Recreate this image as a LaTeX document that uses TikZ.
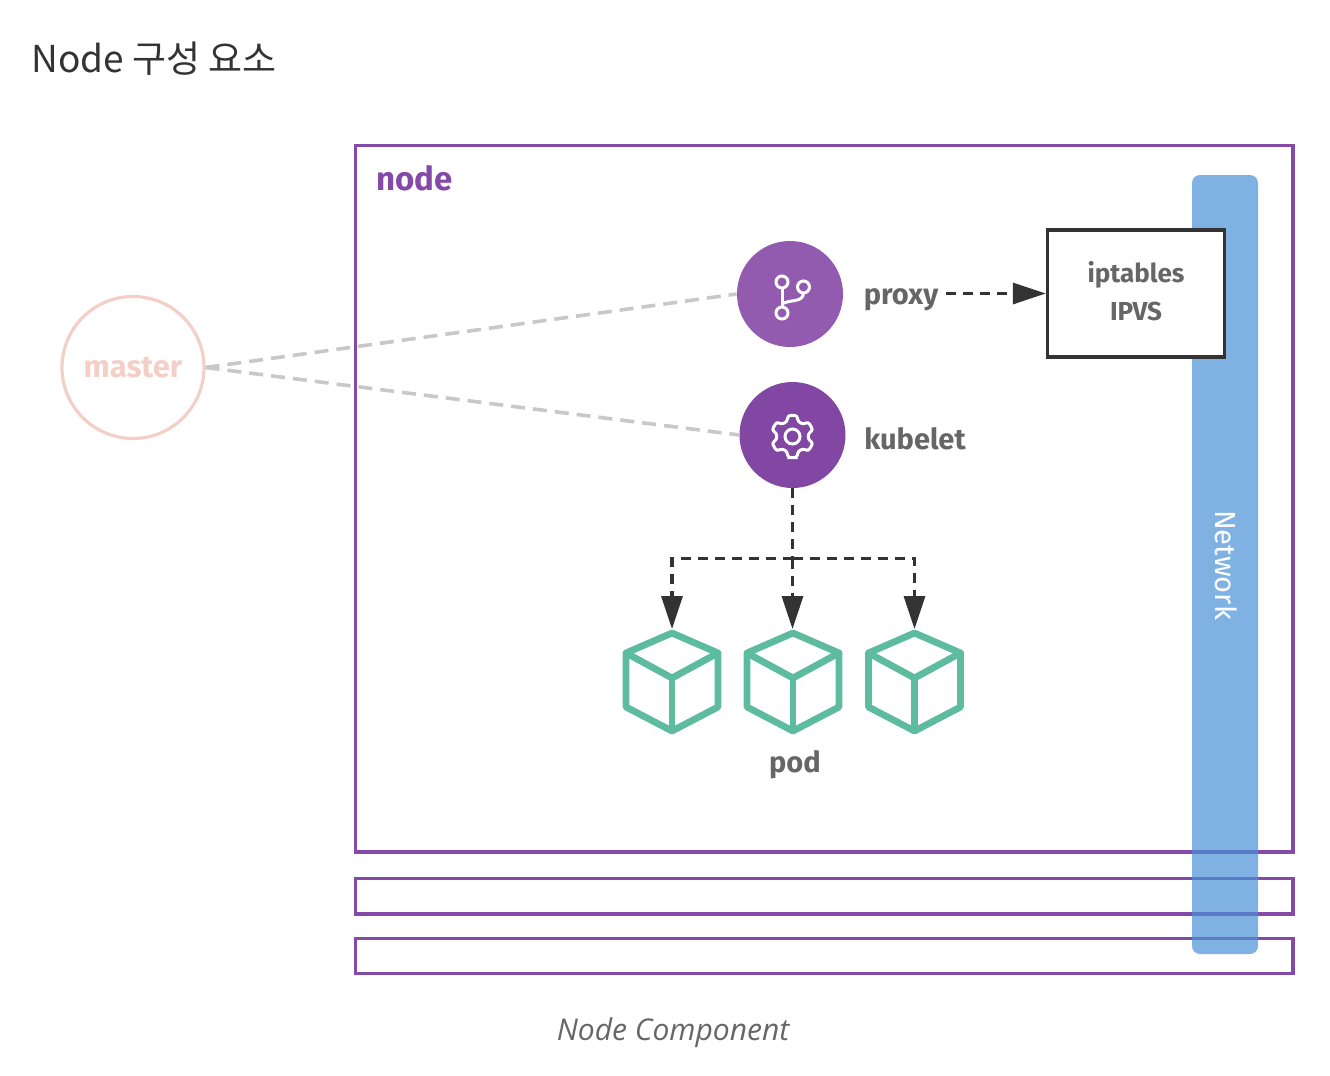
\documentclass[tikz,border=0pt]{standalone}
\usepackage{fontspec}
\setmainfont{Fira Sans}
\newfontfamily\krfont{Noto Sans CJK KR}
\newfontfamily\capfont{Open Sans}
\usepackage{tikz}
\usetikzlibrary{arrows.meta}
\definecolor{nodepurple}{HTML}{8549A8}
\definecolor{proxypurple}{HTML}{925BAF}
\definecolor{kubeletpurple}{HTML}{8247A3}
\definecolor{netblue}{HTML}{4892D7}
\definecolor{podgreen}{HTML}{5DBB9E}
\definecolor{masterpink}{HTML}{F4CFC8}
\definecolor{labelgray}{HTML}{666666}
\definecolor{darkline}{HTML}{333333}
\definecolor{fadeline}{HTML}{C8C8C8}
\tikzset{
	nodebox/.style={draw=nodepurple,line width=1.8pt},
	label/.style={font=\bfseries\fontsize{14.5}{17}\selectfont,text=labelgray,inner sep=0pt},
	iplabel/.style={font=\bfseries\fontsize{13}{16}\selectfont,text=labelgray,inner sep=0pt},
	flowarrow/.style={draw=darkline,line width=1.7pt,dash pattern=on 5pt off 3.5pt,-{Triangle[length=16.5pt,width=10.5pt]}},
	flowline/.style={draw=darkline,line width=1.7pt,dash pattern=on 5pt off 3.5pt},
	fadeline/.style={draw=fadeline,line width=1.8pt,dash pattern=on 7pt off 4pt},
	podcube/.style={draw=podgreen,line width=3.4pt,line join=round},
	iconline/.style={draw=white,line width=1.5pt}
}
\begin{document}
\begin{tikzpicture}[x=0.5pt,y=-0.5pt]
	\useasboundingbox (0,0) rectangle (1330,1076);

	\node[anchor=west,inner sep=0pt,text=darkline,font=\krfont\fontsize{18.5}{22}\selectfont] (title) at (31,58.5) {Node 구성 요소};

	% node boxes
	\draw[nodebox] (355.5,145.5) rectangle (1293,852);
	\draw[nodebox] (355.5,878.5) rectangle (1293,914);
	\draw[nodebox] (355.5,938.5) rectangle (1293,973.5);
	\node[anchor=center,inner sep=0pt,text=nodepurple,font=\bfseries\fontsize{16.5}{20}\selectfont] (nodelabel) at (414.5,178) {node};

	% network
	\fill[netblue,opacity=0.7,rounded corners=4pt] (1192,175) rectangle (1258,954);
	\node[rotate=-90,inner sep=0pt,text=white,font=\fontsize{14.5}{17}\selectfont] (network) at (1226,565) {Network};

	% master
	\node[circle,draw=masterpink,line width=1.6pt,minimum size=71pt,inner sep=0pt,text=masterpink,font=\bfseries\fontsize{15.5}{17}\selectfont] (master) at (133,367.5) {master};

	% proxy and kubelet
	\node[circle,fill=proxypurple,minimum size=53pt,inner sep=0pt] (proxy) at (790,294) {};
	\node[circle,fill=kubeletpurple,minimum size=53pt,inner sep=0pt] (kubelet) at (792.5,435) {};
	\draw[fadeline] (master.east) -- (proxy.west);
	\draw[fadeline] (master.east) -- (kubelet.west);

	\node[label] (proxylabel) at (901,300) {proxy};
	\node[label] (kubeletlabel) at (915,439) {kubelet};

	% icons
	\draw[iconline] (782,282) circle (6);
	\draw[iconline] (803.5,287) circle (6);
	\draw[iconline] (782,313) circle (6);
	\draw[iconline] (782,288) -- (782,307);
	\draw[iconline] (782,304) .. controls (790,299) and (803,303) .. (803.5,293);
	\begin{scope}[shift={(792.5,436.5)}]
		\draw[iconline] (0,0) circle (7.5);
		\draw[iconline,rounded corners=1.2pt] (90:21.03)
			\foreach \a in {90,30,-30,-90,-150,-210}{
				-- (\a-12:21.5) -- (\a-20:16) -- (\a-40:16) -- (\a-48:21.5)
			} -- cycle;
	\end{scope}

	% iptables
	\node[draw=darkline,fill=white,line width=1.7pt,minimum width=88.5pt,minimum height=63.5pt,inner sep=0pt] (iptables) at (1136,293.5) {};
	\node[iplabel] (iptext) at (1136,275) {iptables};
	\node[iplabel] (ipvstext) at (1136,311) {IPVS};
	\coordinate (proxyout) at (946,293.5);
	\draw[flowarrow] (proxyout) -- (iptables.west);

	% pods
	\foreach \x/\podname in {672/poda,793/podb,914.5/podc}{
		\coordinate (\podname) at (\x,629);
		\begin{scope}[shift={(\x,0)}]
			\draw[podcube] (0,633) -- (46,653) -- (46,707) -- (0,731) -- (-46,707) -- (-46,653) -- cycle;
			\draw[podcube] (-46,653) -- (0,678) -- (46,653);
			\draw[podcube] (0,678) -- (0,731);
		\end{scope}
	}
	\coordinate (junction) at (792.5,558.5);
	\draw[flowline] (kubelet.south) -- (junction);
	\draw[flowarrow] (junction) -- (junction |- podb);
	\draw[flowarrow] (junction) -| (poda);
	\draw[flowarrow] (junction) -| (podc);
	\node[label] (podlabel) at (795,765) {pod};

	\node[inner sep=0pt,text=labelgray,font=\capfont\itshape\fontsize{15}{18}\selectfont] (caption) at (673,1033) {Node Component};
\end{tikzpicture}
\end{document}
